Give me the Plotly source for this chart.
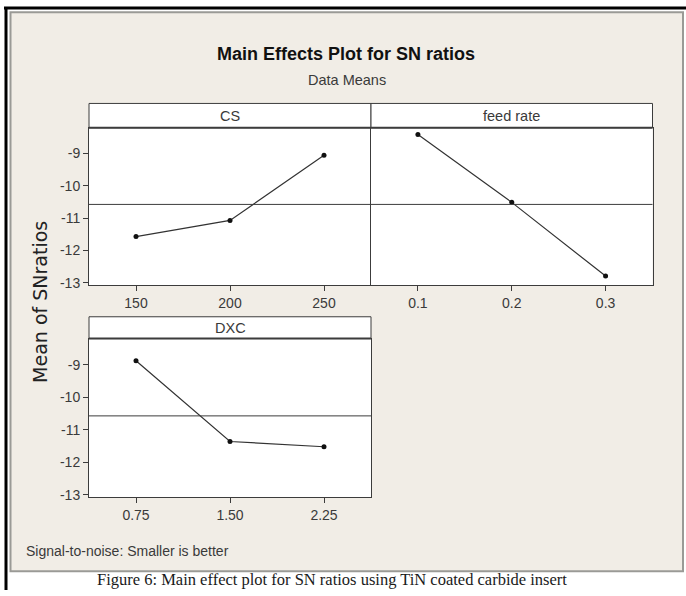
import numpy as np
import plotly.graph_objects as go

# ---- data ----
cs_levels = [150, 200, 250]
cs_sn = [-11.57, -11.07, -9.05]
feed_levels = [0.1, 0.2, 0.3]
feed_sn = [-8.41, -10.51, -12.79]
doc_levels = [0.75, 1.50, 2.25]
doc_sn = [-8.88, -11.36, -11.52]
panel_titles = ["CS", "feed rate", "DXC"]
y_ticks = [-9, -10, -11, -12, -13]
y_ticktext = ["-9", "-10", "-11", "-12", "-13"]

grand_mean = float(np.mean(cs_sn + feed_sn + doc_sn))

W, H = 686, 596
def px(x):
    return x / W
def py(y):
    return 1 - y / H

TXT = "#3a3a3a"
LINE = "#3c3c3c"
FONT = "Liberation Sans"

fig = go.Figure()

series = [(cs_levels, cs_sn, "x", "y"),
          (feed_levels, feed_sn, "x2", "y2"),
          (doc_levels, doc_sn, "x3", "y3")]
for xs, ys, xa, ya in series:
    fig.add_trace(go.Scatter(x=xs, y=ys, xaxis=xa, yaxis=ya, mode="lines+markers",
                             line=dict(color="#333333", width=1.2),
                             marker=dict(color="#111111", size=5),
                             showlegend=False, hoverinfo="skip"))

yr = [-13.07, -8.2]
common_x = dict(showgrid=False, zeroline=False, showline=True, mirror=True,
                linecolor=LINE, linewidth=1, ticks="outside", ticklen=5,
                tickcolor=LINE, tickfont=dict(family=FONT, size=14, color=TXT))
common_y = dict(showgrid=False, zeroline=False, showline=True,
                linecolor=LINE, linewidth=1, range=yr,
                tickfont=dict(family=FONT, size=14, color=TXT))

top = [py(288), py(129)]
bot = [py(502.3), py(342)]
xl = [px(89), px(371)]
xrr = [px(371), px(652.5)]

fig.update_layout(
    width=W, height=H, margin=dict(l=0, r=0, t=0, b=0),
    paper_bgcolor="white", plot_bgcolor="white",
    xaxis=dict(domain=xl, anchor="y", range=[125, 275], tickvals=cs_levels, **common_x),
    yaxis=dict(domain=top, anchor="x", tickvals=y_ticks, ticktext=y_ticktext, ticks="outside",
               ticklen=5, tickcolor=LINE, mirror=False, **common_y),
    xaxis2=dict(domain=xrr, anchor="y2", range=[0.05, 0.35], tickvals=feed_levels,
                tickformat=".1f", **common_x),
    yaxis2=dict(domain=top, anchor="x2", showticklabels=False, ticks="", mirror=True, **common_y),
    xaxis3=dict(domain=xl, anchor="y3", range=[0.375, 2.625], tickvals=doc_levels,
                tickformat=".2f", **common_x),
    yaxis3=dict(domain=bot, anchor="x3", tickvals=y_ticks, ticktext=y_ticktext, ticks="outside",
                ticklen=5, tickcolor=LINE, mirror=True, **common_y),
)

shapes = []
# outer black frame lines
shapes.append(dict(type="line", xref="paper", yref="paper", x0=px(4), x1=1, y0=py(8), y1=py(8),
                   line=dict(color="black", width=3), layer="below"))
shapes.append(dict(type="line", xref="paper", yref="paper", x0=px(6), x1=px(6), y0=py(7), y1=0,
                   line=dict(color="black", width=3), layer="below"))
# beige panel
shapes.append(dict(type="rect", xref="paper", yref="paper", x0=px(10.5), x1=px(683), y0=py(577), y1=py(12.5),
                   fillcolor="#F1EDE6", line=dict(color="#9a9a96", width=2), layer="below"))
# white plot backgrounds (below traces)
for (x0, x1), (y0, y1) in [(xl, top), (xrr, top), (xl, bot)]:
    shapes.append(dict(type="rect", xref="paper", yref="paper", x0=x0, x1=x1, y0=y0, y1=y1,
                       fillcolor="white", line=dict(width=0), layer="below"))
# strips
strips = [(xl, 104.5, 129), (xrr, 104.5, 129), (xl, 320, 342)]
for (x0, x1), s0, s1 in strips:
    shapes.append(dict(type="rect", xref="paper", yref="paper", x0=x0, x1=x1, y0=py(s1), y1=py(s0),
                       fillcolor="white", line=dict(color=LINE, width=1)))
    shapes.append(dict(type="line", xref="paper", yref="paper", x0=x0, x1=x1, y0=py(s1), y1=py(s1),
                       line=dict(color=LINE, width=2)))
# reference lines at grand mean
for xa, ya in [("x", "y"), ("x2", "y2"), ("x3", "y3")]:
    shapes.append(dict(type="line", xref=f"{xa} domain", yref=ya, x0=0, x1=1,
                       y0=grand_mean, y1=grand_mean, line=dict(color=LINE, width=1)))
fig.update_layout(shapes=shapes)

ann = []
ann.append(dict(text="<b>Main Effects Plot for SN ratios</b>", x=px(346), y=py(55), xref="paper", yref="paper",
                showarrow=False, font=dict(family=FONT, size=18, color="#111111"), xanchor="center", yanchor="middle"))
ann.append(dict(text="Data Means", x=px(347), y=py(81), xref="paper", yref="paper",
                showarrow=False, font=dict(family=FONT, size=14.5, color=TXT), xanchor="center", yanchor="middle"))
for ((x0, x1), s0, s1), t in zip(strips, panel_titles):
    ann.append(dict(text=t, x=(x0 + x1) / 2, y=py((s0 + s1) / 2), xref="paper", yref="paper",
                    showarrow=False, font=dict(family=FONT, size=14.5, color=TXT),
                    xanchor="center", yanchor="middle"))
ann.append(dict(text="Mean of SNratios", x=px(40), y=py(305), xref="paper", yref="paper", textangle=-90,
                showarrow=False, font=dict(family="DejaVu Sans", size=19, color="#222222"),
                xanchor="center", yanchor="middle"))
ann.append(dict(text="Signal-to-noise: Smaller is better", x=px(24), y=py(557), xref="paper", yref="paper",
                showarrow=False, font=dict(family=FONT, size=14, color=TXT), xanchor="left", yanchor="middle"))
ann.append(dict(text="Figure 6: Main effect plot for SN ratios using TiN coated carbide insert",
                x=px(332), y=0, xref="paper", yref="paper", showarrow=False, borderpad=0,
                font=dict(family="Liberation Serif", size=16.5, color="#1a1a1a"), xanchor="center", yanchor="bottom"))
fig.update_layout(annotations=ann)

fig.write_html("out.html")
